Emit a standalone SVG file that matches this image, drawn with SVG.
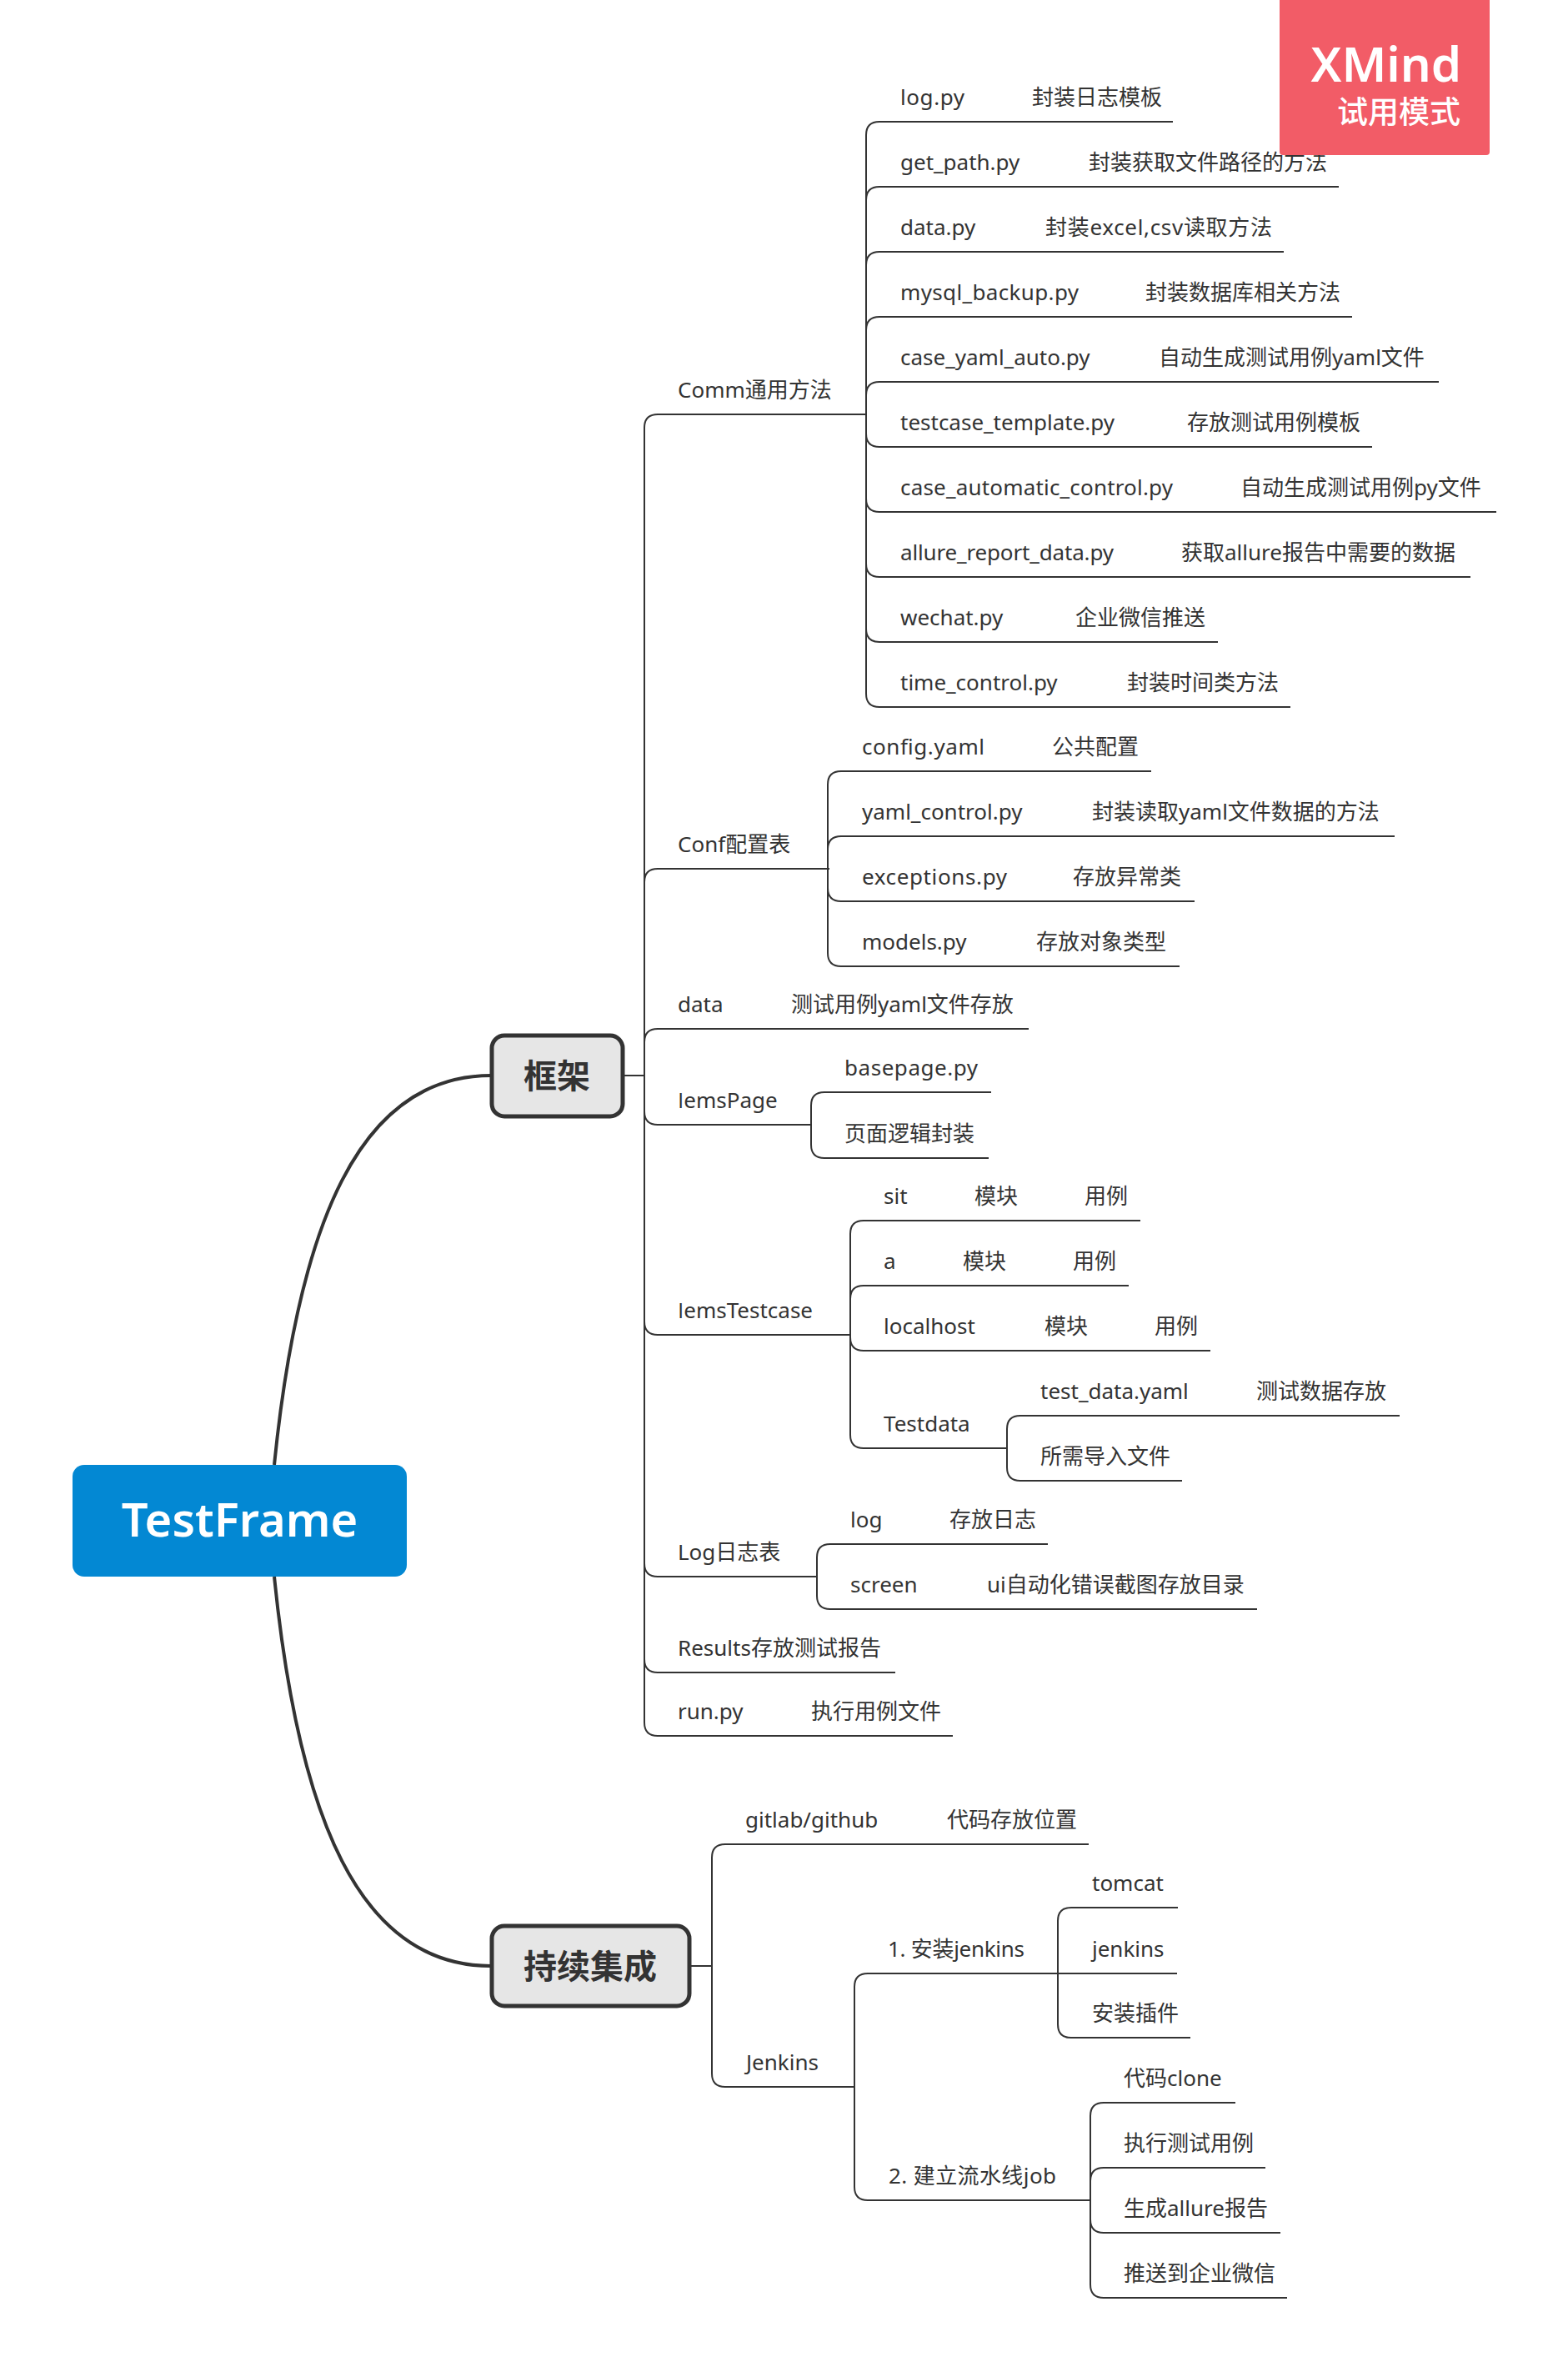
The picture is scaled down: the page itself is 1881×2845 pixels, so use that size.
<svg xmlns="http://www.w3.org/2000/svg" width="1881" height="2845" viewBox="0 0 1881 2845">
<style>
text{font-family:"Noto Sans","Noto Sans CJK SC",sans-serif;font-size:26px;fill:#333}
.i{font-family:"Open Sans",sans-serif}
.c{fill:none;stroke:#333;stroke-width:2}
.m{fill:none;stroke:#333;stroke-width:4}
.b{fill:#e6e6e6;stroke:#333;stroke-width:5}
.h{font-family:"Noto Sans CJK SC",sans-serif;font-size:40px;font-weight:700;text-anchor:middle}
</style>
<rect width="1881" height="2845" fill="#fff"/>
<g id="connectors">
<path class="m" d="M329 1757C358 1470 430 1290 589 1290"/>
<path class="m" d="M329 1891C358 2178 430 2358 589 2358"/>
<path class="c" d="M748 1290H773"/>
<path class="c" d="M828 2358H854"/>
<path class="c" d="M773 1290V513Q773 497 789 497H1039"/>
<path class="c" d="M773 1290V1058Q773 1042 789 1042H995"/>
<path class="c" d="M773 1290V1250Q773 1234 789 1234H1234"/>
<path class="c" d="M773 1290V1333Q773 1349 789 1349H974"/>
<path class="c" d="M773 1290V1585Q773 1601 789 1601H1020"/>
<path class="c" d="M773 1290V1875Q773 1891 789 1891H980"/>
<path class="c" d="M773 1290V1990Q773 2006 789 2006H1074"/>
<path class="c" d="M773 1290V2066Q773 2082 789 2082H1143"/>
<path class="c" d="M1039 497V162Q1039 146 1055 146H1407"/>
<path class="c" d="M1039 497V240Q1039 224 1055 224H1606"/>
<path class="c" d="M1039 497V318Q1039 302 1055 302H1540"/>
<path class="c" d="M1039 497V396Q1039 380 1055 380H1622"/>
<path class="c" d="M1039 497V474Q1039 458 1055 458H1726"/>
<path class="c" d="M1039 497V520Q1039 536 1055 536H1646"/>
<path class="c" d="M1039 497V598Q1039 614 1055 614H1795"/>
<path class="c" d="M1039 497V676Q1039 692 1055 692H1764"/>
<path class="c" d="M1039 497V754Q1039 770 1055 770H1461"/>
<path class="c" d="M1039 497V832Q1039 848 1055 848H1548"/>
<path class="c" d="M993 1042V941Q993 925 1009 925H1381"/>
<path class="c" d="M993 1042V1019Q993 1003 1009 1003H1673"/>
<path class="c" d="M993 1042V1065Q993 1081 1009 1081H1433"/>
<path class="c" d="M993 1042V1143Q993 1159 1009 1159H1415"/>
<path class="c" d="M973 1349V1326Q973 1310 989 1310H1189"/>
<path class="c" d="M973 1349V1373Q973 1389 989 1389H1186"/>
<path class="c" d="M1020 1601V1480Q1020 1464 1036 1464H1368"/>
<path class="c" d="M1020 1601V1558Q1020 1542 1036 1542H1354"/>
<path class="c" d="M1020 1601V1604Q1020 1620 1036 1620H1452"/>
<path class="c" d="M1020 1601V1721Q1020 1737 1036 1737H1208"/>
<path class="c" d="M1208 1737V1714Q1208 1698 1224 1698H1679"/>
<path class="c" d="M1208 1737V1760Q1208 1776 1224 1776H1418"/>
<path class="c" d="M980 1891V1868Q980 1852 996 1852H1257"/>
<path class="c" d="M980 1891V1914Q980 1930 996 1930H1508"/>
<path class="c" d="M854 2358V2228Q854 2212 870 2212H1306"/>
<path class="c" d="M854 2358V2487Q854 2503 870 2503H1025"/>
<path class="c" d="M1025 2503V2383Q1025 2367 1041 2367H1269"/>
<path class="c" d="M1025 2503V2623Q1025 2639 1041 2639H1308"/>
<path class="c" d="M1269 2367V2304Q1269 2288 1285 2288H1413"/>
<path class="c" d="M1269 2367H1412"/>
<path class="c" d="M1269 2367V2428Q1269 2444 1285 2444H1428"/>
<path class="c" d="M1308 2639V2538Q1308 2522 1324 2522H1482"/>
<path class="c" d="M1308 2639V2616Q1308 2600 1324 2600H1518"/>
<path class="c" d="M1308 2639V2662Q1308 2678 1324 2678H1536"/>
<path class="c" d="M1308 2639V2740Q1308 2756 1324 2756H1544"/>
</g>
<g id="root"><rect x="87" y="1757" width="401" height="134" rx="14" fill="#0388d3"/><text x="287.500" y="1843" text-anchor="middle" style="font-size:56px;font-weight:600;fill:#fff">TestFrame</text></g>
<g id="framework"><rect class="b" x="590" y="1242" width="157" height="97" rx="15"/><text class="h" x="668" y="1305">框架</text></g>
<g id="ci"><rect class="b" x="590" y="2310" width="237" height="96" rx="15"/><text class="h" x="708" y="2373">持续集成</text></g>
<g id="comm"><text x="813" y="477">Comm通用方法</text></g>
<g id="log-py"><text x="1080" y="126" textLength="77">log.py</text><text x="1238" y="126">封装日志模板</text></g>
<g id="get-path"><text x="1080" y="204">get_path.py</text><text x="1306" y="204">封装获取文件路径的方法</text></g>
<g id="data-py"><text x="1080" y="282">data.py</text><text x="1254" y="282" textLength="272">封装excel,csv读取方法</text></g>
<g id="mysql"><text x="1080" y="360" textLength="214">mysql_backup.py</text><text x="1374" y="360">封装数据库相关方法</text></g>
<g id="case-yaml"><text x="1080" y="438">case_yaml_auto.py</text><text x="1390" y="438">自动生成测试用例yaml文件</text></g>
<g id="testcase-template"><text x="1080" y="516">testcase_template.py</text><text x="1424" y="516">存放测试用例模板</text></g>
<g id="case-automatic"><text x="1080" y="594" textLength="327">case_automatic_control.py</text><text x="1488" y="594">自动生成测试用例py文件</text></g>
<g id="allure"><text x="1080" y="672" textLength="256">allure_report_data.py</text><text x="1417" y="672">获取allure报告中需要的数据</text></g>
<g id="wechat"><text x="1080" y="750">wechat.py</text><text x="1290" y="750">企业微信推送</text></g>
<g id="time"><text x="1080" y="828">time_control.py</text><text x="1352" y="828">封装时间类方法</text></g>
<g id="conf"><text x="813" y="1022">Conf配置表</text></g>
<g id="config"><text x="1034" y="905" textLength="147">config.yaml</text><text x="1262" y="905">公共配置</text></g>
<g id="yaml-control"><text x="1034" y="983">yaml_control.py</text><text x="1310" y="983">封装读取yaml文件数据的方法</text></g>
<g id="exceptions"><text x="1034" y="1061" textLength="174">exceptions.py</text><text x="1287" y="1061">存放异常类</text></g>
<g id="models"><text x="1034" y="1139">models.py</text><text x="1243" y="1139">存放对象类型</text></g>
<g id="data"><text x="813" y="1214">data</text><text x="949" y="1214">测试用例yaml文件存放</text></g>
<g id="lemspage"><text x="813" y="1329"><tspan class="i">I</tspan>emsPage</text></g>
<g id="basepage"><text x="1013" y="1290" textLength="160">basepage.py</text></g>
<g id="page-logic"><text x="1013" y="1369">页面逻辑封装</text></g>
<g id="lemstestcase"><text x="813" y="1581"><tspan class="i">I</tspan>emsTestcase</text></g>
<g id="sit"><text x="1060" y="1444">sit</text><text x="1169" y="1444">模块</text><text x="1301" y="1444">用例</text></g>
<g id="a"><text x="1060" y="1522">a</text><text x="1155" y="1522">模块</text><text x="1287" y="1522">用例</text></g>
<g id="localhost"><text x="1060" y="1600">localhost</text><text x="1253" y="1600">模块</text><text x="1385" y="1600">用例</text></g>
<g id="testdata"><text x="1060" y="1717">Testdata</text></g>
<g id="test-data-yaml"><text x="1248" y="1678">test_data.yaml</text><text x="1507" y="1678">测试数据存放</text></g>
<g id="import-files"><text x="1248" y="1756">所需导入文件</text></g>
<g id="log-table"><text x="813" y="1871">Log日志表</text></g>
<g id="log"><text x="1020" y="1832">log</text><text x="1139" y="1832">存放日志</text></g>
<g id="screen"><text x="1020" y="1910">screen</text><text x="1184" y="1910">ui自动化错误截图存放目录</text></g>
<g id="results"><text x="813" y="1986">Results存放测试报告</text></g>
<g id="run"><text x="813" y="2062">run.py</text><text x="973" y="2062">执行用例文件</text></g>
<g id="gitlab"><text x="894" y="2192">gitlab/github</text><text x="1136" y="2192">代码存放位置</text></g>
<g id="jenkins-group"><text x="895" y="2483">Jenkins</text></g>
<g id="install"><text x="1065" y="2347" textLength="164">1. 安装jenkins</text></g>
<g id="tomcat"><text x="1310" y="2268">tomcat</text></g>
<g id="jenkins"><text x="1310" y="2347">jenkins</text></g>
<g id="plugins"><text x="1310" y="2424">安装插件</text></g>
<g id="pipeline"><text x="1066" y="2619" textLength="201">2. 建立流水线job</text></g>
<g id="clone"><text x="1348" y="2502">代码clone</text></g>
<g id="run-tests"><text x="1348" y="2580">执行测试用例</text></g>
<g id="allure-report"><text x="1348" y="2658">生成allure报告</text></g>
<g id="push"><text x="1348" y="2736">推送到企业微信</text></g>
<g id="watermark"><path d="M1535 0H1787V182Q1787 186 1783 186H1539Q1535 186 1535 182Z" fill="#f25c67"/><text x="1753" y="98" text-anchor="end" style="font-size:58px;font-weight:600;fill:#fff">XMind</text><text x="1752" y="148" text-anchor="end" style="font-size:37px;font-weight:500;fill:#fff;font-family:'Noto Sans CJK SC',sans-serif">试用模式</text></g>
</svg>
